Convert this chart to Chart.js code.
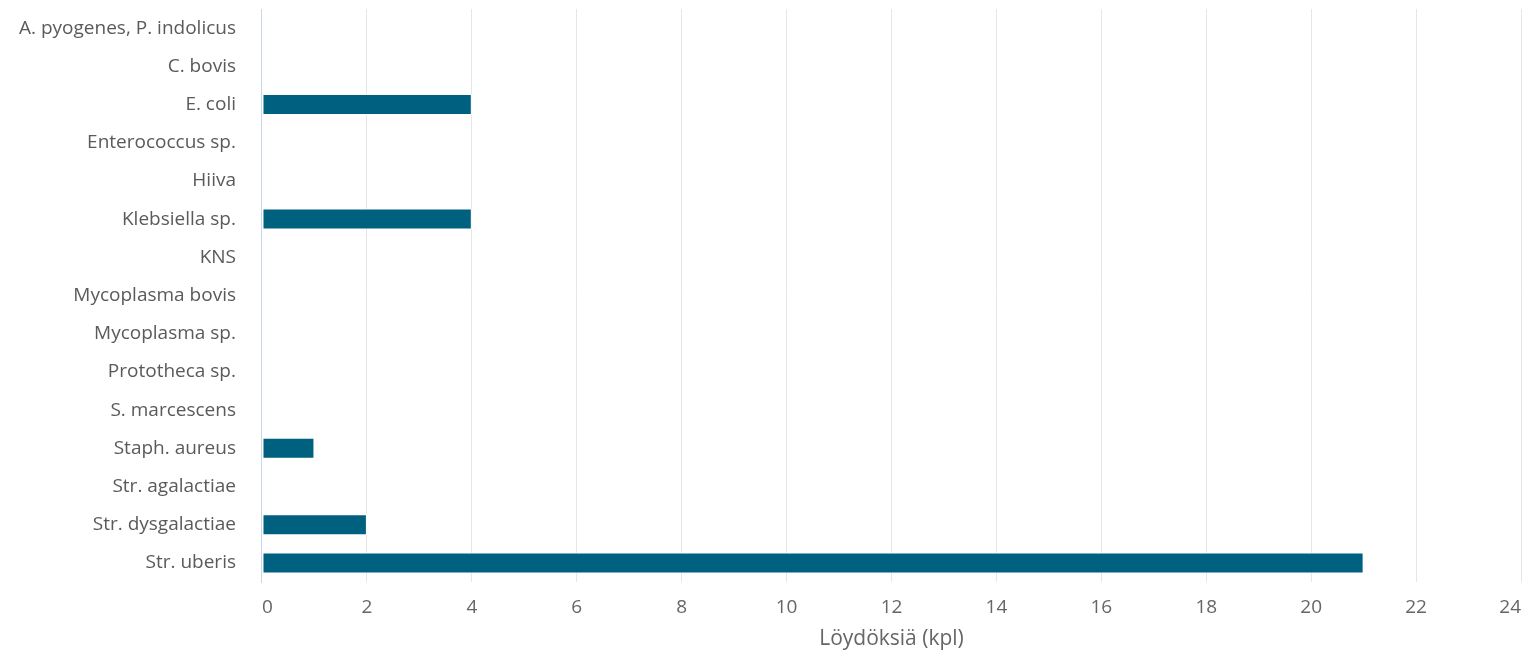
<!DOCTYPE html>
<html>
<head>
<meta charset="utf-8">
<script src="https://cdn.jsdelivr.net/npm/chart.js@4/dist/chart.umd.min.js"></script>
<style>
  html, body { margin: 0; padding: 0; background: #fff; }
  #wrap { width: 1525px; height: 652px; position: relative; }
</style>
</head>
<body>
<div id="wrap"><canvas id="findingsChart"></canvas></div>
<script>
const categories = [
    'A. pyogenes, P. indolicus', 'C. bovis', 'E. coli', 'Enterococcus sp.', 'Hiiva',
    'Klebsiella sp.', 'KNS', 'Mycoplasma bovis', 'Mycoplasma sp.', 'Prototheca sp.',
    'S. marcescens', 'Staph. aureus', 'Str. agalactiae', 'Str. dysgalactiae', 'Str. uberis'
];
const findings = [0, 0, 4, 0, 0, 4, 0, 0, 0, 0, 0, 1, 0, 2, 21];
const xMin = 0;
const xMax = 24;
const xStep = 2;

function createFindingsChart() {
    const ctx = document.getElementById('findingsChart');
    if (!ctx) return;
    new Chart(ctx, {
        type: 'bar',
        data: {
            labels: categories,
            datasets: [{
                label: 'Löydöksiä',
                data: findings,
                backgroundColor: '#00607f',
                borderColor: '#ffffff',
                borderWidth: 1,
                borderSkipped: false,
                categoryPercentage: 1,
                barPercentage: 0.55
            }]
        },
        options: {
            indexAxis: 'y',
            responsive: true,
            maintainAspectRatio: false,
            animation: false,
            layout: { padding: { top: 9, right: 4, left: 14, bottom: 0 } },
            plugins: {
                legend: { display: false },
                tooltip: { enabled: true }
            },
            scales: {
                x: {
                    min: xMin,
                    max: xMax,
                    ticks: {
                        stepSize: xStep,
                        color: '#666666',
                        padding: 14,
                        align: 'inner',
                        font: { family: 'Open Sans', size: 19 }
                    },
                    grid: { color: '#e6e6e6', drawTicks: false },
                    border: { display: false },
                    title: {
                        display: true,
                        text: 'Löydöksiä (kpl)',
                        color: '#666666',
                        padding: { top: -6, bottom: 0 },
                        font: { family: 'Open Sans', size: 21 }
                    },
                    afterFit: (scale) => { scale.paddingLeft = 0; scale.paddingRight = 0; }
                },
                y: {
                    ticks: {
                        color: '#5a5a5a',
                        padding: 26,
                        autoSkip: false,
                        font: { family: 'Open Sans', size: 19 }
                    },
                    grid: { display: false, drawTicks: false },
                    border: { display: true, color: '#ccd6eb', width: 1 },
                    afterFit: (scale) => {
                        scale.paddingTop = 0;
                        scale.paddingBottom = 0;
                        scale.width -= 21;
                    }
                }
            }
        }
    });
}

document.addEventListener('DOMContentLoaded', () => {
    Promise.all([
        document.fonts.load('19px "Open Sans"'),
        document.fonts.load('21px "Open Sans"')
    ]).catch(() => {}).then(createFindingsChart);
});
</script>
</body>
</html>
